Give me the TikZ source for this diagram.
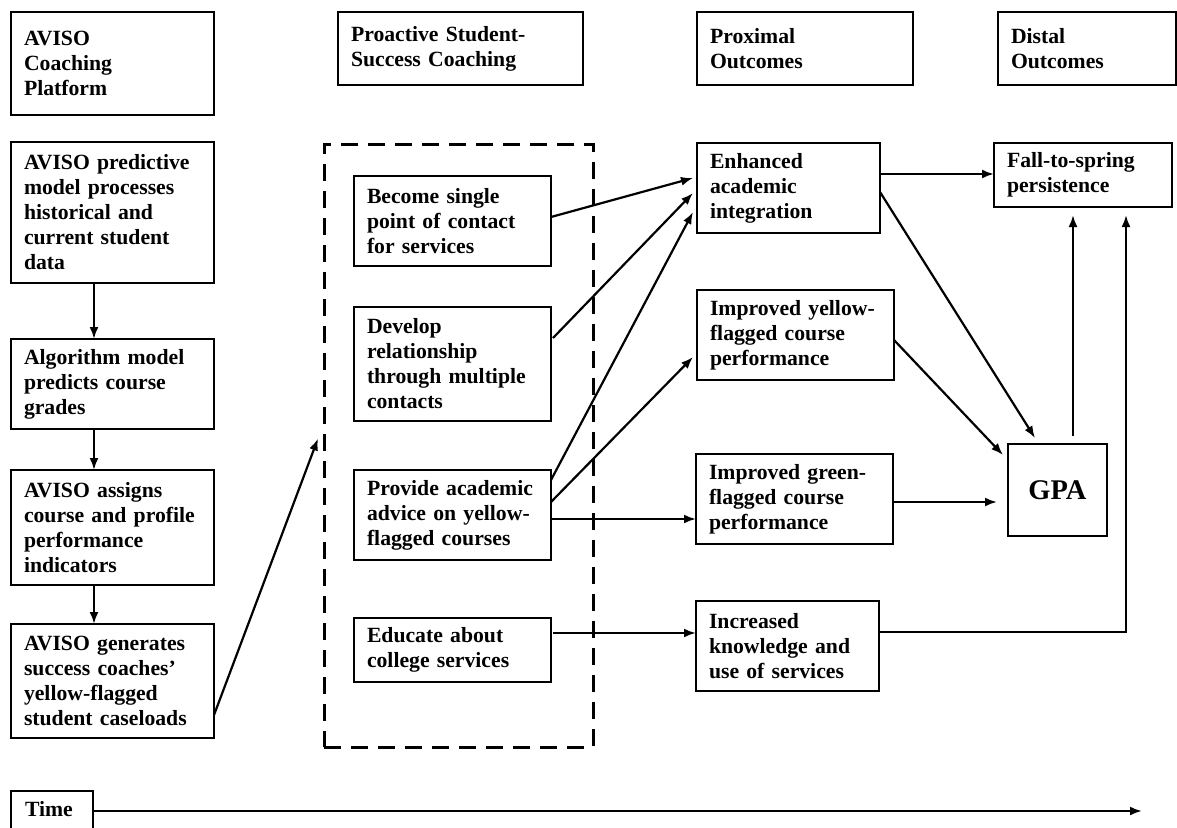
\documentclass[tikz,border=0pt]{standalone}
\usepackage{fontspec}
\setmainfont{Liberation Serif}
\usetikzlibrary{arrows.meta,calc}
\begin{document}
\begin{tikzpicture}[x=1pt,y=-1pt,
  box/.style={draw, line width=1.1pt, inner xsep=13pt, inner ysep=3pt, outer sep=0pt,
     align=left, font=\fontsize{21.7}{25}\selectfont\bfseries},
  dashbox/.style={draw, line width=3pt, dash pattern=on 17pt off 10pt, outer sep=0pt, inner sep=0pt},
  arr/.style={line width=2.2pt, -{Latex[length=12pt,width=9pt]}},
]
\useasboundingbox (0,0) rectangle (1177,827);
% headers
\node[box, minimum width=203, text width=177, minimum height=103] (h1) at (112.5,63.5) {AVISO\\Coaching\\Platform};
\node[box, minimum width=245, text width=219, minimum height=73] (h2) at (460.5,48.5) {Proactive Student-\\Success Coaching};
\node[box, minimum width=216, text width=190, minimum height=73] (h3) at (805,48.5) {Proximal\\Outcomes};
\node[box, minimum width=178, text width=152, minimum height=73] (h4) at (1087,48.5) {Distal\\Outcomes};
% left column
\node[box, minimum width=203, text width=177, minimum height=141] (l1) at (112.5,212.5) {AVISO predictive\\model processes\\historical and\\current student\\data};
\node[box, minimum width=203, text width=177, minimum height=90] (l2) at (112.5,384) {Algorithm model\\predicts course\\grades};
\node[box, minimum width=203, text width=177, minimum height=115] (l3) at (112.5,527.5) {AVISO assigns\\course and profile\\performance\\indicators};
\node[box, minimum width=203, text width=177, minimum height=114] (l4) at (112.5,681) {AVISO generates\\success coaches’\\yellow-flagged\\student caseloads};
% dashed group
\node[dashbox, minimum width=269, minimum height=603] (grp) at (458.5,445.5) {};
% middle column
\node[box, minimum width=197, text width=171, minimum height=90] (m1) at (452.5,221) {Become single\\point of contact\\for services};
\node[box, minimum width=197, text width=171, minimum height=114] (m2) at (452.5,364) {Develop\\relationship\\through multiple\\contacts};
\node[box, minimum width=197, text width=171, minimum height=90] (m3) at (452.5,515) {Provide academic\\advice on yellow-\\flagged courses};
\node[box, minimum width=197, text width=171, minimum height=64] (m4) at (452.5,650) {Educate about\\college services};
% proximal
\node[box, minimum width=183, text width=157, minimum height=90] (p1) at (788.5,188) {Enhanced\\academic\\integration};
\node[box, minimum width=197, text width=171, minimum height=90] (p2) at (795.5,335) {Improved yellow-\\flagged course\\performance};
\node[box, minimum width=197, text width=171, minimum height=90] (p3) at (794.5,499) {Improved green-\\flagged course\\performance};
\node[box, minimum width=183, text width=157, minimum height=90] (p4) at (787.5,646) {Increased\\knowledge and\\use of services};
% distal
\node[box, minimum width=178, text width=152, minimum height=64] (d1) at (1083,175) {Fall-to-spring\\persistence};
\node[box, minimum width=99, minimum height=92, align=center, inner xsep=2pt, font=\fontsize{28.5}{30}\selectfont\bfseries] (gpa) at (1057.5,490) {GPA};
% time
\node[box, anchor=north west, minimum width=82, text width=54, text height=22pt, text depth=12pt, inner xsep=14pt] (time) at (11,791) {Time};
\coordinate (tend) at (1142,811);
% arrows left column
\draw[arr] ($(l1.south)+(-18.5,0)$) -- ($(l2.north)+(-18.5,0)$);
\draw[arr] ($(l2.south)+(-18.5,0)$) -- ($(l3.north)+(-18.5,0)$);
\draw[arr] ($(l3.south)+(-18.5,0)$) -- ($(l4.north)+(-18.5,0)$);
\draw[arr] ($(l4.east)+(0,34)$) -- ($(grp.west)+(-6,-7)$);
% middle to proximal
\draw[arr] ($(m1.east)+(0,-4)$) -- ($(p1.west)+(-4,-10)$);
\draw[arr] ($(m2.east)+(2,-26)$) -- ($(p1.west)+(-4,5)$);
\draw[arr] ($(m3.north east)+(0,10)$) -- ($(p1.west)+(-4,24)$);
\draw[arr] ($(m3.east)+(0,-13)$) -- ($(p2.west)+(-4,22)$);
\draw[arr] ($(m3.east)+(0,4)$) -- ($(p3.west)+(0,20)$);
\draw[arr] ($(m4.east)+(2,-17)$) -- ($(p4.west)+(0,-13)$);
% proximal to distal
\draw[arr] ($(p1.east)+(0,-14)$) -- ($(d1.west)+(0,-1)$);
\draw[arr] ($(p1.east)+(0,4)$) -- ($(gpa.north)+(-22.5,-6)$);
\draw[arr] ($(p2.east)+(0,5)$) -- ($(gpa.north west)+(-5,11)$);
\draw[arr] ($(p3.east)+(0,3)$) -- ($(gpa.west)+(-11,12)$);
\draw[arr] ($(gpa.north)+(15.5,-8)$) -- ($(d1.south)+(-10,8)$);
\draw[arr] ($(p4.east)+(0,-14)$) -| ($(d1.south)+(43,8)$);
% time arrow
\draw[arr] (time.east) -- (tend);
\end{tikzpicture}
\end{document}
